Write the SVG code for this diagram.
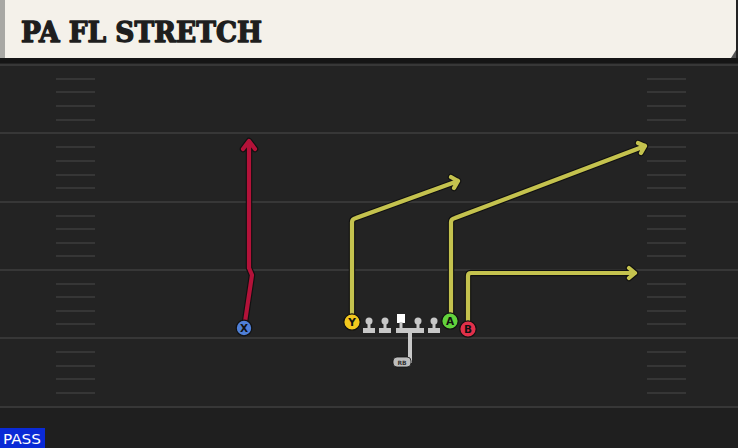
<svg xmlns="http://www.w3.org/2000/svg" width="738" height="448" viewBox="0 0 738 448">
<defs>
<style>
.yl{stroke:#373737;stroke-width:2}
.hm{stroke:#363636;stroke-width:2}
.out{fill:none;stroke:#111;stroke-width:6.5;stroke-linejoin:round;stroke-linecap:round}
.rt{fill:none;stroke:#c4c24e;stroke-width:4.2;stroke-linejoin:round;stroke-linecap:round}
.rd{fill:none;stroke:#b31239;stroke-width:4.2;stroke-linejoin:round;stroke-linecap:round}
.lm{fill:#c8c8c8}
.pl{stroke:#111;stroke-width:1.2}
.lbl{font-family:"DejaVu Sans",sans-serif;font-weight:bold;font-size:10.5px;text-anchor:middle;fill:#111}
</style>
</defs>
<rect x="0" y="0" width="738" height="448" fill="#232323"/>
<rect x="0" y="407" width="738" height="41" fill="#1f1f1f"/>
<rect x="0" y="58" width="738" height="5" fill="#151515"/>
<g id="header">
<rect x="0" y="0" width="736" height="58" fill="#f4f1ea"/>
<rect x="0" y="0" width="5" height="58" fill="#a8a8a4"/>
<polygon points="731,58 736,50 736,58" fill="#555"/>
<text x="21" y="42" font-family="DejaVu Serif, serif" font-weight="bold" font-size="28" fill="#1e1e1e" stroke="#1e1e1e" stroke-width="1.4" stroke-linejoin="round" textLength="241" lengthAdjust="spacingAndGlyphs">PA FL STRETCH</text>
</g>
<g id="field">
<line class="yl" x1="0" y1="65" x2="738" y2="65"/>
<line class="yl" x1="0" y1="133" x2="738" y2="133"/>
<line class="yl" x1="0" y1="202" x2="738" y2="202"/>
<line class="yl" x1="0" y1="270" x2="738" y2="270"/>
<line class="yl" x1="0" y1="338" x2="738" y2="338"/>
<line class="yl" x1="0" y1="407" x2="738" y2="407"/>
<g class="hm">
<path d="M56,79H95M56,92H95M56,106H95M56,120H95M56,147H95M56,161H95M56,175H95M56,188H95M56,216H95M56,229H95M56,243H95M56,256H95M56,284H95M56,297H95M56,311H95M56,324H95M56,352H95M56,366H95M56,379H95M56,393H95"/>
<path d="M647,79H686M647,92H686M647,106H686M647,120H686M647,147H686M647,161H686M647,175H686M647,188H686M647,216H686M647,229H686M647,243H686M647,256H686M647,284H686M647,297H686M647,311H686M647,324H686M647,352H686M647,366H686M647,379H686M647,393H686"/>
</g>
</g>
<g id="routes">
<path class="out" d="M245,322 L252,275 L249,268 L249,142 M243,149 L249,141 L255,149"/>
<path class="rd" d="M245,322 L252,275 L249,268 L249,142 M243,149 L249,141 L255,149"/>
<path class="out" d="M352,316 V222 Q352,219 356,218 L458,181 M451,177 L458,181 L454,188"/>
<path class="rt" d="M352,316 V222 Q352,219 356,218 L458,181 M451,177 L458,181 L454,188"/>
<path class="out" d="M451,314 V222 Q451,219 455,218 L645,146 M638,143 L645,146 L641,153"/>
<path class="rt" d="M451,314 V222 Q451,219 455,218 L645,146 M638,143 L645,146 L641,153"/>
<path class="out" d="M468,322 V276 Q468,273 471,273 H635 M629,268 L635,273 L629,278"/>
<path class="rt" d="M468,322 V276 Q468,273 471,273 H635 M629,268 L635,273 L629,278"/>
<path d="M404,330 H410 V363" fill="none" stroke="#c8c8c8" stroke-width="4"/>
</g>
<g id="lt"><circle class="lm" cx="369" cy="321" r="3.5"/><rect class="lm" x="367.5" y="322" width="3" height="7"/><rect class="lm" x="363" y="328" width="12" height="5"/></g>
<g id="lg"><circle class="lm" cx="385" cy="321" r="3.5"/><rect class="lm" x="383.5" y="322" width="3" height="7"/><rect class="lm" x="379" y="328" width="12" height="5"/></g>
<g id="c"><rect x="397" y="314" width="8" height="9" fill="#ffffff"/><rect class="lm" x="399.5" y="322" width="3" height="7"/><rect class="lm" x="396" y="328" width="14" height="5"/></g>
<g id="rg"><circle class="lm" cx="418" cy="321" r="3.5"/><rect class="lm" x="416.5" y="322" width="3" height="7"/><rect class="lm" x="412" y="328" width="12" height="5"/></g>
<g id="rt"><circle class="lm" cx="434" cy="321" r="3.5"/><rect class="lm" x="432.5" y="322" width="3" height="7"/><rect class="lm" x="428" y="328" width="12" height="5"/></g>
<g id="rb"><rect x="393" y="357" width="18" height="10" rx="4" fill="#bdbdbd" stroke="#111" stroke-width="0.8"/><text x="402" y="365" font-family="DejaVu Sans, sans-serif" font-weight="bold" font-size="6" fill="#333" text-anchor="middle">RB</text></g>
<g id="x"><circle class="pl" cx="244" cy="328" r="7.8" fill="#4f7fd6"/><text class="lbl" x="244" y="332">X</text></g>
<g id="y"><circle class="pl" cx="352" cy="322" r="8.2" fill="#f2c81e"/><text class="lbl" x="352" y="326">Y</text></g>
<g id="a"><circle class="pl" cx="450" cy="321" r="8.2" fill="#62d23c"/><text class="lbl" x="450" y="325">A</text></g>
<g id="b"><circle class="pl" cx="468" cy="329" r="8.2" fill="#e2304a"/><text class="lbl" x="468" y="333">B</text></g>
<g id="pass"><rect x="0" y="428" width="45" height="20" fill="#0a2ad6"/><text x="3" y="444" font-family="DejaVu Sans Condensed, DejaVu Sans, sans-serif" font-size="14" fill="#ffffff" textLength="38" lengthAdjust="spacingAndGlyphs">PASS</text></g>
</svg>
